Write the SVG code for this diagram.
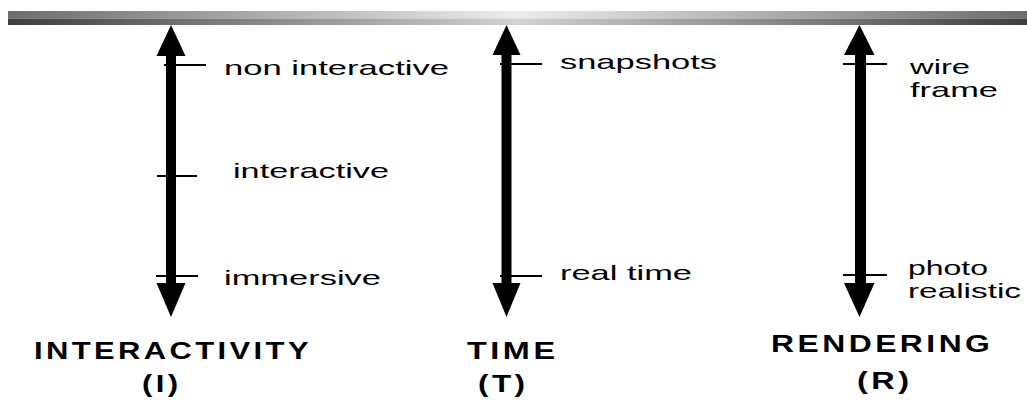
<svg xmlns="http://www.w3.org/2000/svg" width="1027" height="400" viewBox="0 0 1027 400">
<style>
.lbl{font-family:"Liberation Sans",Arial,sans-serif;font-size:21px;fill:#000}
.ttl{font-family:"Liberation Sans",Arial,sans-serif;font-size:23px;font-weight:bold;letter-spacing:2.5px;fill:#000}
.tick{stroke:#000;stroke-width:2}
.shaft{fill:#000}
.head{fill:#000}
</style>
<defs>
<linearGradient id="gTop" x1="0" y1="0" x2="1" y2="0">
<stop offset="0" stop-color="#6c6c6c"/>
<stop offset="0.5" stop-color="#ececec"/>
<stop offset="1" stop-color="#6c6c6c"/>
</linearGradient>
<linearGradient id="gBot" x1="0" y1="0" x2="1" y2="0">
<stop offset="0" stop-color="#3e3e3e"/>
<stop offset="0.5" stop-color="#d2d2d2"/>
<stop offset="1" stop-color="#3e3e3e"/>
</linearGradient>
</defs>
<rect x="0" y="0" width="1027" height="400" fill="#fff"/>
<g id="title-bar">
<rect x="8" y="11" width="1019" height="7.5" fill="url(#gTop)"/>
<rect x="8" y="18.5" width="1019" height="6.5" fill="url(#gBot)"/>
</g>
<g id="connectors">
<rect class="shaft" x="166" y="54" width="10" height="232"/>
<polygon class="head" points="171,25 185.5,56 156.5,56"/>
<polygon class="head" points="171,317 185.5,283 156.5,283"/>
<rect class="shaft" x="501.5" y="54" width="10" height="232"/>
<polygon class="head" points="506.5,25 520.5,55 492.5,55"/>
<polygon class="head" points="506.5,317 520.5,283 492.5,283"/>
<rect class="shaft" x="855" y="54" width="11" height="232"/>
<polygon class="head" points="859.5,25 874.5,55 844,55"/>
<polygon class="head" points="859.5,317 874.5,283 844,283"/>
</g>
<g id="interactivity">
<line class="tick" x1="164" y1="65" x2="206" y2="65"/>
<line class="tick" x1="157" y1="176" x2="197" y2="176"/>
<line class="tick" x1="156" y1="276" x2="198" y2="276"/>
<text class="lbl" x="224" y="75" textLength="225" lengthAdjust="spacingAndGlyphs">non interactive</text>
<text class="lbl" x="233" y="178" textLength="156" lengthAdjust="spacingAndGlyphs">interactive</text>
<text class="lbl" x="224" y="285" textLength="157" lengthAdjust="spacingAndGlyphs">immersive</text>
<text class="ttl" transform="translate(34,359) scale(1.348,1)">INTERACTIVITY</text>
<text class="ttl" transform="translate(142,392) scale(1.35,1)">(I)</text>
</g>
<g id="time">
<line class="tick" x1="500" y1="64" x2="542" y2="64"/>
<line class="tick" x1="500" y1="276" x2="542" y2="276"/>
<text class="lbl" x="560" y="69" textLength="157" lengthAdjust="spacingAndGlyphs">snapshots</text>
<text class="lbl" x="560" y="280" textLength="132" lengthAdjust="spacingAndGlyphs">real time</text>
<text class="ttl" transform="translate(467,359) scale(1.41,1)">TIME</text>
<text class="ttl" transform="translate(478,392) scale(1.37,1)">(T)</text>
</g>
<g id="rendering">
<line class="tick" x1="843" y1="64" x2="887" y2="64"/>
<line class="tick" x1="843" y1="275" x2="887" y2="275"/>
<text class="lbl" x="910" y="74" textLength="60" lengthAdjust="spacingAndGlyphs">wire</text>
<text class="lbl" x="910" y="97" textLength="88" lengthAdjust="spacingAndGlyphs">frame</text>
<text class="lbl" x="908" y="275" textLength="80" lengthAdjust="spacingAndGlyphs">photo</text>
<text class="lbl" x="908" y="298" textLength="113" lengthAdjust="spacingAndGlyphs">realistic</text>
<text class="ttl" transform="translate(771,352) scale(1.386,1)">RENDERING</text>
<text class="ttl" transform="translate(857,389) scale(1.41,1)">(R)</text>
</g>
</svg>
